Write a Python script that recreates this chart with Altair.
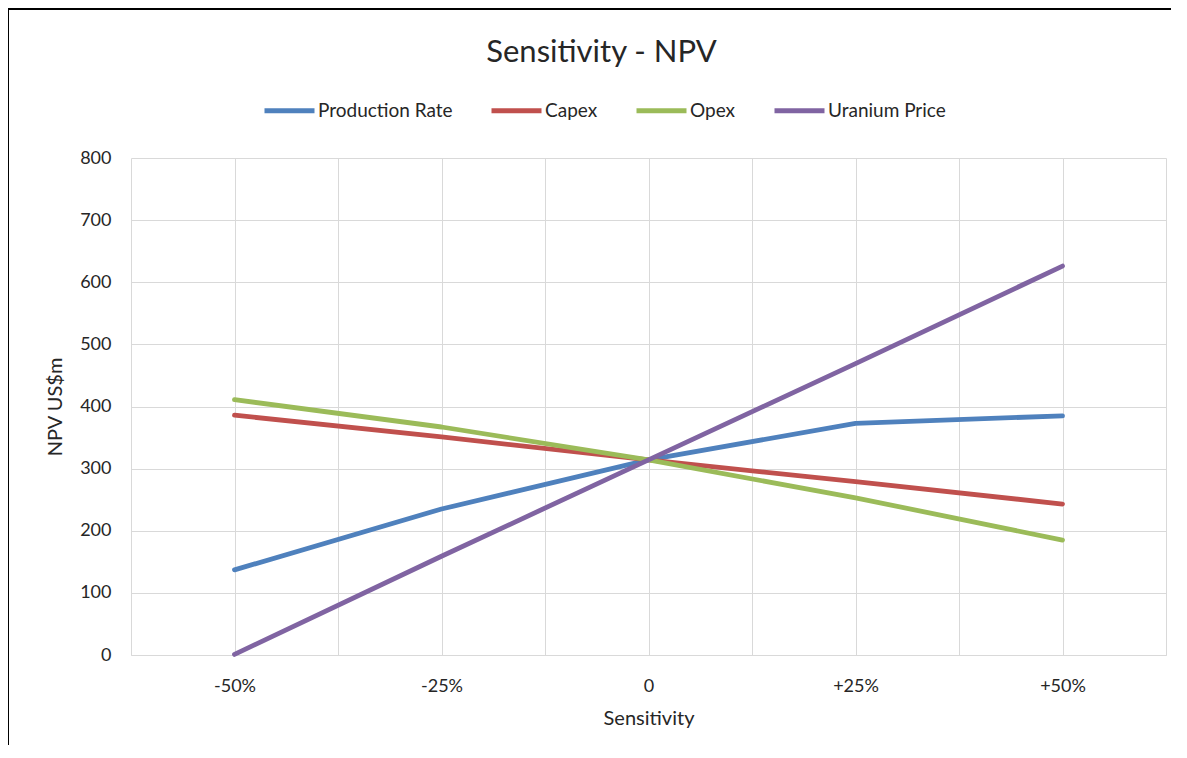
import altair as alt
import pandas as pd

categories = ["-50%", "-25%", "0", "+25%", "+50%"]
production_rate = [137, 235, 314, 373, 385]
capex = [386, 351, 314, 279, 243]
opex = [411, 367, 314, 253, 185]
uranium_price = [1, 159, 314, 469, 626]
series_names = ["Production Rate", "Capex", "Opex", "Uranium Price"]
colors = ["#4F81BD", "#C0504D", "#9BBB59", "#8064A2"]
y_ticks = [0, 100, 200, 300, 400, 500, 600, 700, 800]

rows = []
for name, vals in zip(series_names, [production_rate, capex, opex, uranium_price]):
    for i, (c, v) in enumerate(zip(categories, vals)):
        rows.append({"series": name, "cat": c, "pos": i, "npv": v})
df = pd.DataFrame(rows)

label_expr = "''"
for i in reversed(range(len(categories))):
    label_expr = f"datum.value == {i} ? '{categories[i]}' : " + label_expr
x_values = [i / 2 - 0.5 for i in range(2 * len(categories) + 1)]

FONT = "Lato"
TXT = "#262626"
GRID = "#d9d9d9"

lines = alt.Chart(df).mark_line(strokeWidth=4.8, strokeCap="round", strokeJoin="round").encode(
    x=alt.X("pos:Q",
            scale=alt.Scale(domain=[-0.5, len(categories) - 0.5], nice=False, zero=False),
            axis=alt.Axis(values=x_values, labelExpr=label_expr, ticks=False, domain=True,
                          domainColor=GRID, grid=True, gridColor=GRID, title="Sensitivity",
                          labelFontSize=18, labelPadding=22, labelColor=TXT, labelFont=FONT,
                          titleFont=FONT, titleFontSize=20, titleFontWeight="normal",
                          titleColor=TXT, titlePadding=13)),
    y=alt.Y("npv:Q",
            scale=alt.Scale(domain=[0, 800], nice=False),
            axis=alt.Axis(values=y_ticks, ticks=False, domain=False, grid=True, gridColor=GRID,
                          title="NPV US$m", labelFontSize=18, labelPadding=20, labelColor=TXT,
                          labelFont=FONT, titleFont=FONT, titleFontSize=20,
                          titleFontWeight="normal", titleColor=TXT, titlePadding=14)),
    color=alt.Color("series:N",
                    scale=alt.Scale(domain=series_names, range=colors),
                    legend=alt.Legend(orient="none", legendX=131, legendY=-75, direction="horizontal",
                                      title=None, symbolType="stroke", symbolStrokeWidth=5,
                                      symbolSize=2500, labelFontSize=19, labelFont=FONT,
                                      labelColor=TXT, columnPadding=28, labelOffset=1)),
    order="pos:Q",
)

frame_top = alt.Chart(pd.DataFrame({"k": [0]})).mark_rule(color="black", strokeWidth=2).encode(
    x=alt.value(-123), x2=alt.value(1100), y=alt.value(-149))
frame_left = alt.Chart(pd.DataFrame({"k": [0]})).mark_rule(color="black", strokeWidth=2).encode(
    x=alt.value(-123), y=alt.value(-149), y2=alt.value(700))

chart = alt.layer(frame_top, frame_left, lines).properties(
    width=1035,
    height=497,
    autosize=alt.AutoSizeParams(type="none"),
    padding={"left": 123, "top": 150, "right": 5, "bottom": 90},
    title=alt.TitleParams("Sensitivity - NPV", fontSize=31, font=FONT, fontWeight="normal",
                          color=TXT, anchor="middle", dx=-47, dy=65),
).configure_view(stroke=None)

chart.save("out.html", embed_options={"renderer": "svg", "actions": False})
